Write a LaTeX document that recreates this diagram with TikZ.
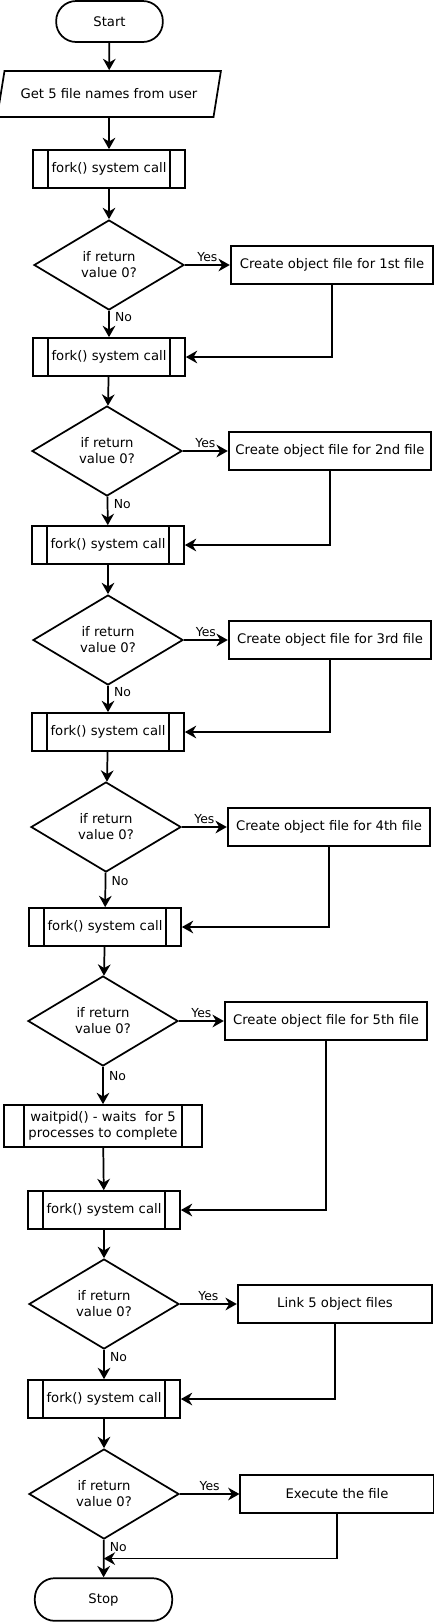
\documentclass[tikz,border=0pt]{standalone}
\usepackage{fontspec}
\setmainfont{DejaVu Sans}
\usepackage{tikz}
\usetikzlibrary{shapes.geometric, arrows.meta, calc}

\begin{document}
\begin{tikzpicture}[x=0.75pt, y=-0.75pt, line width=1.3pt, >={Stealth[length=8.5pt, width=9.5pt]},
    font=\fontsize{9.9}{12}\selectfont,
    term/.style={draw, rounded corners=15pt, minimum width=80pt, minimum height=30.75pt},
    io/.style={draw, trapezium, trapezium left angle=71, trapezium right angle=109,
               trapezium stretches=true, minimum width=168pt, minimum height=34.5pt},
    subproc/.style={draw, align=center, minimum width=114pt, minimum height=28.5pt,
        path picture={\draw ([xshift=#1]path picture bounding box.north west) -- ([xshift=#1]path picture bounding box.south west)
                            ([xshift=-#1]path picture bounding box.north east) -- ([xshift=-#1]path picture bounding box.south east);}},
    subproc/.default=11.25pt,
    test/.style={draw, diamond, aspect=1.6, align=center, inner sep=1pt, minimum width=112.5pt, minimum height=67.5pt},
    task/.style={draw, minimum width=152pt, minimum height=28.5pt},
    lbl/.style={font=\fontsize{9.3}{11}\selectfont, inner sep=2pt},
    no/.style={lbl, near start, right, xshift=2pt}]

      \useasboundingbox (0,0) rectangle (434,1622);

      \node[term]                         (start) at (109.5,  21.5)  {Start};
      \node[io]                           (get)   at (109,    94)    {Get 5 file names from user};

      \node[subproc]                      (f1)    at (109,   169)    {fork() system call};
      \node[test]                         (d1)    at (109,   265)    {if return\\value 0?};
      \node[task]                         (o1)    at (332,   265)    {Create object file for 1st file};

      \node[subproc]                      (f2)    at (109,   357)    {fork() system call};
      \node[test]                         (d2)    at (107,   451)    {if return\\value 0?};
      \node[task]                         (o2)    at (330,   451)    {Create object file for 2nd file};

      \node[subproc]                      (f3)    at (108,   545)    {fork() system call};
      \node[test]                         (d3)    at (108,   640)    {if return\\value 0?};
      \node[task]                         (o3)    at (330,   640)    {Create object file for 3rd file};

      \node[subproc]                      (f4)    at (108,   732)    {fork() system call};
      \node[test]                         (d4)    at (106,   827)    {if return\\value 0?};
      \node[task]                         (o4)    at (329,   827)    {Create object file for 4th file};

      \node[subproc]                      (f5)    at (105,   927)    {fork() system call};
      \node[test]                         (d5)    at (103,  1021)    {if return\\value 0?};
      \node[task]                         (o5)    at (326,  1021)    {Create object file for 5th file};

      \node[subproc=15pt, minimum width=148pt, minimum height=31.5pt]
                                          (w)     at (103,  1126)    {waitpid() - waits\ \ for 5\\processes to complete};

      \node[subproc]                      (f6)    at (104,  1210)    {fork() system call};
      \node[test]                         (d6)    at (104,  1304)    {if return\\value 0?};
      \node[task, minimum width=146pt]    (lnk)   at (335,  1304)    {Link 5 object files};

      \node[subproc]                      (f7)    at (104,  1399)    {fork() system call};
      \node[test]                         (d7)    at (104,  1494)    {if return\\value 0?};
      \node[task, minimum width=145pt]    (ex)    at (337,  1494)    {Execute the file};

      \node[term, minimum width=103pt, minimum height=32pt]
                                          (stop)  at (103.5, 1599.5) {Stop};

      \coordinate (j) at ($(d7.south)!0.5!(stop.north)$);

      \draw[->] (start) -- (get);
      \draw[->] (get)   -- (f1);

      \draw[->] (f1) -- (d1);
      \draw[->] (d1) -- node[lbl, above] {Yes} (o1);
      \draw[->] (d1) -- node[no] {No} (f2);
      \draw[->] (o1.south) |- (f2);

      \draw[->] (f2) -- (d2);
      \draw[->] (d2) -- node[lbl, above] {Yes} (o2);
      \draw[->] (d2) -- node[no] {No} (f3);
      \draw[->] (o2.south) |- (f3);

      \draw[->] (f3) -- (d3);
      \draw[->] (d3) -- node[lbl, above] {Yes} (o3);
      \draw[->] (d3) -- node[no] {No} (f4);
      \draw[->] (o3.south) |- (f4);

      \draw[->] (f4) -- (d4);
      \draw[->] (d4) -- node[lbl, above] {Yes} (o4);
      \draw[->] (d4) -- node[no] {No} (f5);
      \draw[->] (o4.south) |- (f5);

      \draw[->] (f5) -- (d5);
      \draw[->] (d5) -- node[lbl, above] {Yes} (o5);
      \draw[->] (d5) -- node[no] {No} (w);
      \draw[->] (w)  -- (f6);
      \draw[->] (o5.south) |- (f6);

      \draw[->] (f6) -- (d6);
      \draw[->] (d6) -- node[lbl, above] {Yes} (lnk);
      \draw[->] (d6) -- node[no] {No} (f7);
      \draw[->] (lnk.south) |- (f7);

      \draw[->] (f7) -- (d7);
      \draw[->] (d7) -- node[lbl, above] {Yes} (ex);
      \draw[->] (d7) -- node[no, pos=0.2] {No} (stop);
      \draw[->] (ex.south) |- (j);
    \end{tikzpicture}
\end{document}
